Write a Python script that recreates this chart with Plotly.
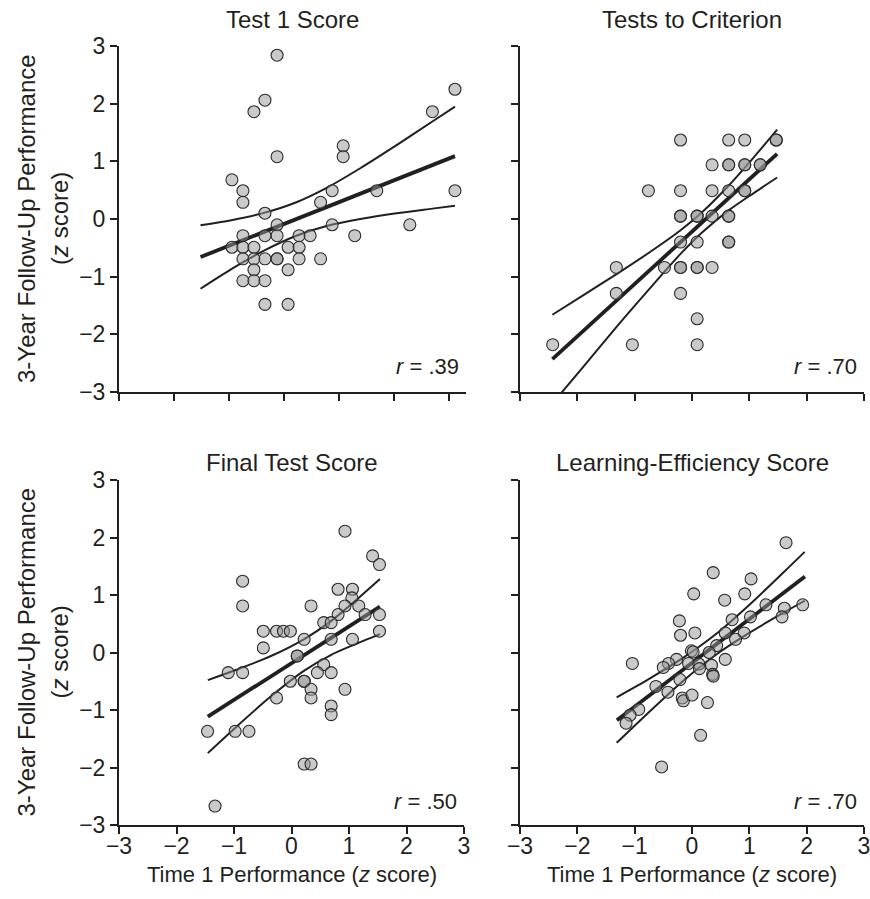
import plotly.graph_objects as go

# ---------------- data ----------------
# Panel 1: Test 1 Score
tl_x = [-0.13, 3.10, -0.35, -0.55, 2.69, 1.07, 1.07, -0.13, -0.95, -0.75, -0.75, 0.87, 1.68, 3.10, 0.66,
        -0.35, -0.13, 0.87, 2.28, -0.75, -0.35, -0.13, 0.27, 0.47, 1.28, -0.95, -0.75, -0.55, 0.07, 0.27,
        -0.75, -0.55, -0.35, -0.13, -0.13, 0.27, 0.66, -0.55, 0.07, -0.75, -0.55, -0.35, -0.35, 0.07]
tl_y = [2.84, 2.25, 2.06, 1.86, 1.86, 1.27, 1.08, 1.08, 0.68, 0.49, 0.29, 0.49, 0.49, 0.49, 0.29,
        0.10, -0.10, -0.10, -0.10, -0.29, -0.29, -0.29, -0.29, -0.29, -0.29, -0.49, -0.49, -0.49, -0.49, -0.49,
        -0.69, -0.69, -0.69, -0.69, -0.69, -0.69, -0.69, -0.88, -0.88, -1.07, -1.07, -1.07, -1.48, -1.48]
tl_fit_x = [-1.52, 3.10]
tl_fit_y = [-0.66, 1.09]
tl_band_x = [-1.52, -0.96, -0.35, 0.22, 0.77, 1.38, 2.04, 2.69, 3.10]
tl_up_y = [-0.11, -0.02, 0.11, 0.29, 0.54, 0.88, 1.28, 1.69, 1.95]
tl_lo_y = [-1.21, -0.87, -0.54, -0.29, -0.12, 0.00, 0.10, 0.18, 0.23]

# Panel 2: Tests to Criterion
tr_x = [-2.43, -1.04, 0.09, 0.09, -1.32, -0.20, -1.32, -0.48, -0.20, -0.20, 0.09, 0.09, 0.35, -0.20,
        0.09, 0.64, 0.64, -0.20, -0.20, 0.09, 0.09, 0.35, 0.64, 0.64, -0.76, -0.20, 0.35, 0.64, 0.92,
        0.92, 0.35, 0.64, 0.64, 0.92, 0.92, 1.19, 1.19, -0.20, 0.64, 0.92, 1.47, 1.47]
tr_y = [-2.18, -2.18, -2.18, -1.73, -1.29, -1.29, -0.84, -0.84, -0.84, -0.84, -0.84, -0.84, -0.84, -0.40,
        -0.40, -0.40, -0.40, 0.05, 0.05, 0.05, 0.05, 0.05, 0.05, 0.05, 0.49, 0.49, 0.49, 0.49, 0.49,
        0.49, 0.94, 0.94, 0.94, 0.94, 0.94, 0.94, 0.94, 1.37, 1.37, 1.37, 1.37, 1.37]
tr_fit_x = [-2.435, 1.485]
tr_fit_y = [-2.43, 1.13]
tr_band_x = [-2.435, -1.893, -1.323, -0.758, -0.204, 0.180, 0.640, 1.077, 1.485]
tr_up_y = [-1.66, -1.32, -0.96, -0.59, -0.20, 0.12, 0.58, 1.07, 1.55]
tr_lo_y = [-3.20, -2.56, -1.88, -1.23, -0.61, -0.23, 0.15, 0.45, 0.72]

# Panel 3: Final Test Score
bl_x = [0.93, 1.41, 1.53, -0.85, 0.81, 1.06, 1.05, -0.85, 0.34, 0.93, 1.17, 0.81, 1.28, 1.53, 0.56,
        0.69, -0.49, -0.26, -0.14, -0.02, 1.53, 0.22, 0.69, 1.06, -0.49, 0.10, 0.10, 0.56, -1.10, -0.85,
        0.45, 0.69, -0.02, 0.22, 0.22, 0.34, 0.93, -0.26, 0.34, 0.69, 0.69, -1.46, -0.98, -0.74, 0.22,
        0.34, -1.33]
bl_y = [2.11, 1.68, 1.53, 1.24, 1.10, 1.10, 0.95, 0.81, 0.81, 0.81, 0.81, 0.66, 0.66, 0.66, 0.52,
        0.52, 0.37, 0.37, 0.37, 0.37, 0.37, 0.23, 0.23, 0.23, 0.08, -0.06, -0.06, -0.21, -0.35, -0.35,
        -0.35, -0.35, -0.50, -0.50, -0.50, -0.64, -0.64, -0.79, -0.79, -0.93, -1.08, -1.37, -1.37, -1.37, -1.94,
        -1.94, -2.67]
bl_fit_x = [-1.456, 1.538]
bl_fit_y = [-1.116, 0.797]
bl_band_x = [-1.456, -0.957, -0.377, 0.215, 0.691, 1.074, 1.538]
bl_up_y = [-0.48, -0.30, -0.07, 0.23, 0.55, 0.87, 1.28]
bl_lo_y = [-1.75, -1.29, -0.78, -0.32, -0.04, 0.13, 0.32]

# Panel 4: Learning-Efficiency Score
br_x = [1.64, 0.37, 1.03, 0.03, 0.92, 0.57, 1.29, 1.93, 1.61, 1.02, 1.57, 0.70, -0.22, -0.20, 0.05,
        0.58, 0.91, 0.76, 0.43, -0.01, 0.02, 0.30, -1.04, -0.27, -0.41, -0.50, -0.06, 0.12, 0.13, 0.34,
        0.58, 0.36, 0.37, -0.21, -0.63, -0.42, -0.17, -0.15, 0.00, 0.27, -0.93, -1.08, -1.15, 0.15, -0.53]
br_y = [1.91, 1.39, 1.28, 1.02, 1.02, 0.91, 0.83, 0.83, 0.77, 0.62, 0.62, 0.57, 0.55, 0.30, 0.34,
        0.34, 0.34, 0.23, 0.12, 0.03, 0.01, 0.00, -0.19, -0.12, -0.19, -0.26, -0.19, -0.20, -0.28, -0.22,
        -0.12, -0.38, -0.41, -0.47, -0.59, -0.69, -0.79, -0.84, -0.74, -0.87, -0.99, -1.09, -1.23, -1.44, -1.99]
br_fit_x = [-1.31, 1.97]
br_fit_y = [-1.18, 1.32]
br_band_x = [-1.314, -0.733, -0.151, 0.430, 1.012, 1.593, 1.965]
br_up_y = [-0.78, -0.45, -0.09, 0.33, 0.84, 1.39, 1.75]
br_lo_y = [-1.57, -1.02, -0.49, -0.03, 0.35, 0.69, 0.90]

titles = ["Test 1 Score", "Tests to Criterion", "Final Test Score", "Learning-Efficiency Score"]
r_labels = [".39", ".70", ".50", ".70"]
tick_vals = [-3, -2, -1, 0, 1, 2, 3]
tick_text = ["\u22123", "\u22122", "\u22121", "0", "1", "2", "3"]
y_title_1 = "3-Year Follow-Up Performance"
y_title_2 = "(<i>z</i> score)"
x_title = "Time 1 Performance (<i>z</i> score)"

# ---------------- styling ----------------
W, H = 870, 899
INK = "#231f20"
FONT = "Liberation Sans, Arial, sans-serif"

def px_x(p):                # pixel -> paper fraction
    return p / W

def px_y(p):
    return 1 - p / H

panels = [
    dict(x=tl_x, y=tl_y, fx=tl_fit_x, fy=tl_fit_y, bx=tl_band_x, up=tl_up_y, lo=tl_lo_y,
         xd=[px_x(119), px_x(466)], yd=[px_y(392), px_y(46)], xr=[-3, 3.3], xlab=False, ylab=True),
    dict(x=tr_x, y=tr_y, fx=tr_fit_x, fy=tr_fit_y, bx=tr_band_x, up=tr_up_y, lo=tr_lo_y,
         xd=[px_x(520), px_x(864)], yd=[px_y(392), px_y(46)], xr=[-3, 3], xlab=False, ylab=False),
    dict(x=bl_x, y=bl_y, fx=bl_fit_x, fy=bl_fit_y, bx=bl_band_x, up=bl_up_y, lo=bl_lo_y,
         xd=[px_x(119), px_x(464)], yd=[px_y(825), px_y(480)], xr=[-3, 3], xlab=True, ylab=True),
    dict(x=br_x, y=br_y, fx=br_fit_x, fy=br_fit_y, bx=br_band_x, up=br_up_y, lo=br_lo_y,
         xd=[px_x(520), px_x(864)], yd=[px_y(825), px_y(480)], xr=[-3, 3], xlab=True, ylab=False),
]

fig = go.Figure()
layout = {}
annotations = []

for i, p in enumerate(panels, start=1):
    xa = "x" if i == 1 else f"x{i}"
    ya = "y" if i == 1 else f"y{i}"
    # confidence bands (thin) and fit line (thick), drawn below the points
    for band in (p["up"], p["lo"]):
        fig.add_trace(go.Scatter(x=p["bx"], y=band, mode="lines", xaxis=xa, yaxis=ya,
                                 line=dict(color=INK, width=2, shape="spline", smoothing=0.8),
                                 hoverinfo="skip", showlegend=False))
    fig.add_trace(go.Scatter(x=p["fx"], y=p["fy"], mode="lines", xaxis=xa, yaxis=ya,
                             line=dict(color=INK, width=3.8), hoverinfo="skip", showlegend=False))
    fig.add_trace(go.Scatter(x=p["x"], y=p["y"], mode="markers", xaxis=xa, yaxis=ya,
                             marker=dict(size=12, color="rgba(150,150,150,0.5)",
                                         line=dict(color="#2a2a2a", width=1.1)),
                             showlegend=False))
    axis_common = dict(showline=True, linewidth=2, linecolor=INK, ticks="outside", ticklen=7,
                       tickwidth=2, tickcolor=INK, showgrid=False, zeroline=False,
                       tickvals=tick_vals, ticktext=tick_text, automargin=False,
                       ticklabeloverflow="allow",
                       tickfont=dict(family=FONT, size=23, color=INK), fixedrange=True)
    layout["xaxis" if i == 1 else f"xaxis{i}"] = dict(
        axis_common, domain=p["xd"], range=p["xr"], anchor=ya, showticklabels=p["xlab"],
        ticklabelstandoff=-8)
    layout["yaxis" if i == 1 else f"yaxis{i}"] = dict(
        axis_common, domain=p["yd"], range=[-3, 3], anchor=xa, showticklabels=p["ylab"])

    cx = (p["xd"][0] + p["xd"][1]) / 2
    top_px = 20 if i <= 2 else 462
    annotations.append(dict(text=titles[i - 1], x=cx, y=px_y(top_px), xref="paper", yref="paper",
                            xanchor="center", yanchor="middle", showarrow=False,
                            font=dict(family=FONT, size=24, color=INK)))
    r_px = 366 if i <= 2 else 801
    annotations.append(dict(text=f"<i>r</i> = {r_labels[i - 1]}", x=p["xd"][1] - 5 / W, y=px_y(r_px),
                            xref="paper", yref="paper", xanchor="right", yanchor="middle",
                            showarrow=False, font=dict(family=FONT, size=22, color=INK)))
    if p["ylab"]:
        ymid = (p["yd"][0] + p["yd"][1]) / 2
        for txt, xpx in ((y_title_1, 26), (y_title_2, 59)):
            annotations.append(dict(text=txt, x=px_x(xpx), y=ymid,
                                    xref="paper", yref="paper", xanchor="center", yanchor="middle",
                                    textangle=-90, showarrow=False,
                                    font=dict(family=FONT, size=24, color=INK)))
    if p["xlab"]:
        annotations.append(dict(text=x_title, x=cx, y=px_y(874), xref="paper", yref="paper",
                                xanchor="center", yanchor="middle", showarrow=False,
                                font=dict(family=FONT, size=22, color=INK)))

fig.update_layout(width=W, height=H, margin=dict(l=0, r=0, t=0, b=0, pad=0, autoexpand=False),
                  paper_bgcolor="white", plot_bgcolor="white",
                  annotations=annotations, showlegend=False, **layout)

fig.write_html("out.html", config={"displayModeBar": False},
               post_script="document.body.style.margin='0px';document.body.style.overflow='hidden';")
